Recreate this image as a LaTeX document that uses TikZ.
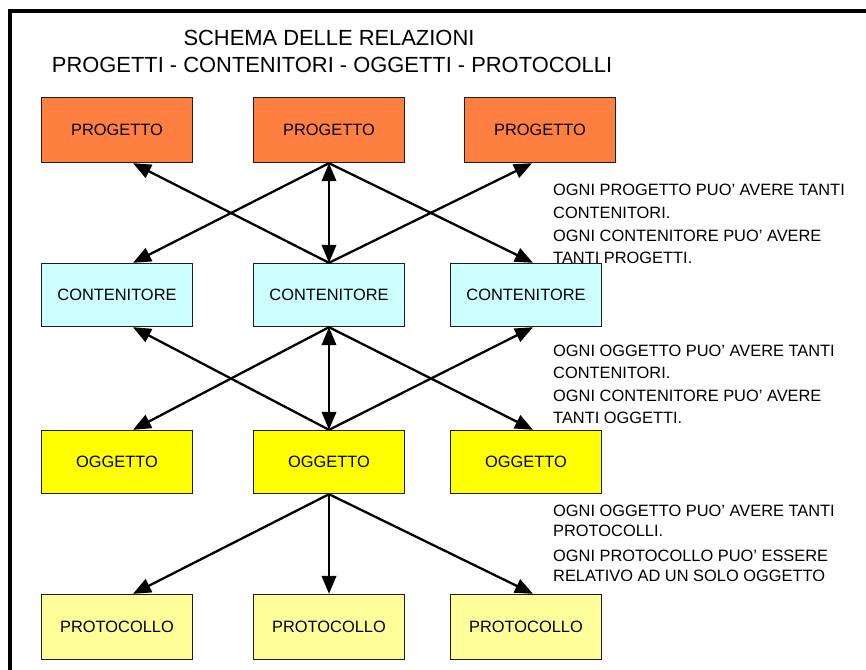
\documentclass[tikz,border=0pt]{standalone}
\usepackage{fontspec}
\setmainfont{Liberation Sans}
\usetikzlibrary{arrows.meta}
\definecolor{progc}{RGB}{255,127,64}
\definecolor{contc}{RGB}{204,255,255}
\definecolor{oggc}{RGB}{255,255,0}
\definecolor{protc}{RGB}{255,255,153}
\definecolor{edgec}{RGB}{30,30,20}
\begin{document}
\begin{tikzpicture}[x=1pt,y=-1pt,
  box/.style={draw=edgec, line width=1.4pt, minimum width=151pt, minimum height=65pt,
    inner sep=0pt, font=\fontsize{16.4}{19}\selectfont},
  progbox/.style={box, fill=progc},
  contbox/.style={box, fill=contc, minimum height=63pt},
  oggbox/.style={box, fill=oggc, minimum height=63pt},
  protbox/.style={box, fill=protc},
  arr/.style={line width=2.3pt, -{Triangle[length=18pt,width=14.5pt]}},
  arrboth/.style={line width=2.3pt, {Triangle[length=18pt,width=14.5pt]}-{Triangle[length=18pt,width=14.5pt]}},
  note/.style={anchor=base west, inner sep=0pt, font=\fontsize{16.4}{20}\selectfont},
  ttl/.style={anchor=base, inner sep=0pt, font=\fontsize{21.9}{25}\selectfont}
]
\useasboundingbox (0,0) rectangle (866,669);
\fill[white] (0,0) rectangle (866,669);
\draw[line width=3.5pt] (10,675) -- (10,11) -- (875,11);

% title
\node[ttl] (t1) at (329,45.5) {SCHEMA DELLE RELAZIONI};
\node[ttl] (t2) at (332,72.5) {PROGETTI - CONTENITORI - OGGETTI - PROTOCOLLI};

% boxes
\node[progbox] (p1) at (117,130) {PROGETTO};
\node[progbox] (p2) at (329,130) {PROGETTO};
\node[progbox] (p3) at (540,130) {PROGETTO};

\node[contbox] (c1) at (117,295) {CONTENITORE};
\node[contbox] (c2) at (329,295) {CONTENITORE};
\node[contbox] (c3) at (526,295) {CONTENITORE};

\node[oggbox] (o1) at (117,462) {OGGETTO};
\node[oggbox] (o2) at (329,462) {OGGETTO};
\node[oggbox] (o3) at (526,462) {OGGETTO};

\node[protbox] (r1) at (117,627) {PROTOCOLLO};
\node[protbox] (r2) at (329,627) {PROTOCOLLO};
\node[protbox] (r3) at (526,627) {PROTOCOLLO};

% connectors progetti - contenitori
\draw[arr] (p2.south) -- ([xshift=16pt]c1.north);
\draw[arr] (p2.south) -- ([xshift=7pt]c3.north);
\draw[arr] (c2.north) -- ([xshift=16pt]p1.south);
\draw[arr] (c2.north) -- ([xshift=-8pt]p3.south);
\draw[arrboth] (p2.south) -- (c2.north);

% connectors contenitori - oggetti
\draw[arr] (c2.south) -- ([xshift=16pt]o1.north);
\draw[arr] (c2.south) -- ([xshift=7pt]o3.north);
\draw[arr] (o2.north) -- ([xshift=16pt]c1.south);
\draw[arr] (o2.north) -- ([xshift=7pt]c3.south);
\draw[arrboth] (c2.south) -- (o2.north);

% connectors oggetti - protocolli
\draw[arr] (o2.south) -- ([xshift=16pt]r1.north);
\draw[arr] (o2.south) -- (r2.north);
\draw[arr] (o2.south) -- ([xshift=7pt]r3.north);

% notes
\node[note] (n1a) at (553,195) {OGNI PROGETTO PUO’ AVERE TANTI};
\node[note] (n1b) at (553,218.3) {CONTENITORI.};
\node[note] (n1c) at (553,241.7) {OGNI CONTENITORE PUO’ AVERE};
\node[note] (n1d) at (553,263.3) {TANTI PROGETTI.};

\node[note] (n2a) at (553,356) {OGNI OGGETTO PUO’ AVERE TANTI};
\node[note] (n2b) at (553,378.3) {CONTENITORI.};
\node[note] (n2c) at (553,401.7) {OGNI CONTENITORE PUO’ AVERE};
\node[note] (n2d) at (553,423.3) {TANTI OGGETTI.};

\node[note] (n3a) at (553,516.7) {OGNI OGGETTO PUO’ AVERE TANTI};
\node[note] (n3b) at (553,536.7) {PROTOCOLLI.};
\node[note] (n3c) at (553,561.7) {OGNI PROTOCOLLO PUO’ ESSERE};
\node[note] (n3d) at (553,581.7) {RELATIVO AD UN SOLO OGGETTO};
\end{tikzpicture}
\end{document}
